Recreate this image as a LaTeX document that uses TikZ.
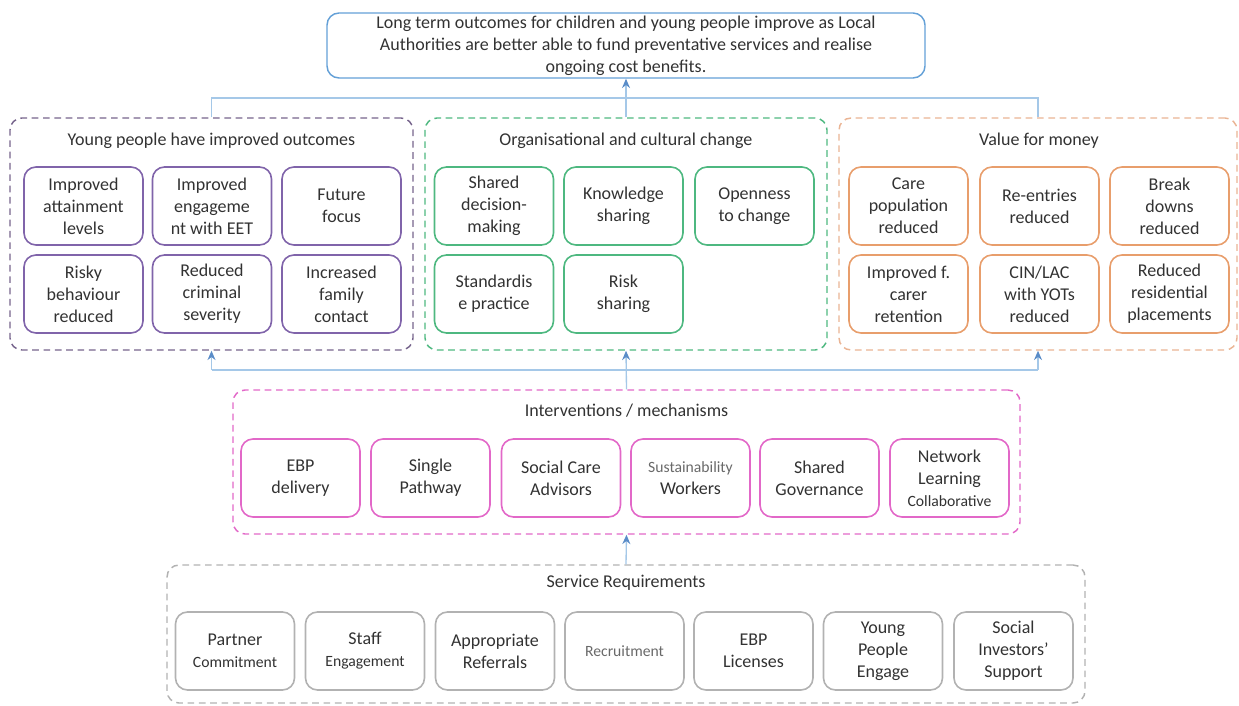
\documentclass[tikz,border=0pt]{standalone}
\usepackage{fontspec}
\setmainfont{Carlito}
\usepackage{tikz}
\usetikzlibrary{arrows.meta}

\definecolor{txtgray}{RGB}{50,50,50}
\definecolor{lightgray}{RGB}{105,105,105}
\definecolor{goalblue}{RGB}{100,160,215}
\definecolor{busblue}{RGB}{165,200,232}
\definecolor{tipblue}{RGB}{90,140,200}
\definecolor{ypurple}{RGB}{128,100,170}
\definecolor{ypurpledash}{RGB}{118,100,140}
\definecolor{ocgreen}{RGB}{78,184,128}
\definecolor{vmorange}{RGB}{232,158,108}
\definecolor{vmorangedash}{RGB}{234,180,148}
\definecolor{impink}{RGB}{226,104,200}
\definecolor{srgray}{RGB}{178,178,178}

\begin{document}
\begin{tikzpicture}[x=0.75pt,y=0.75pt,yscale=-1,xscale=1,
  every node/.style={font=\fontsize{13.5}{16.5}\selectfont,text=txtgray},
  itembox/.style={draw,line width=1.2pt,rounded corners=9pt,align=center,
    inner sep=0pt,minimum width=89.25pt,minimum height=58.5pt},
  groupbox/.style={draw,line width=1.1pt,rounded corners=9pt,inner sep=0pt,
    dash pattern={on 5pt off 3.5pt}},
  bus/.style={draw=busblue,line width=1pt},
  uparrow/.style={bus,-{Stealth[length=7pt,width=6pt,color=tipblue]}},
  small/.style={font=\fontsize{11.75}{14}\selectfont}]
  \useasboundingbox (0,0) rectangle (1239,706);

  %Shape: Goal box
  \node [draw=goalblue,line width=1.1pt,rounded corners=9pt,align=center,
    minimum width=448.5pt,minimum height=48.75pt,inner sep=0pt] (goal) at (626,45.5)
    {Long term outcomes for children and young people improve as Local\\
     Authorities are better able to fund preventative services and realise\\
     ongoing cost benefits.};

  %Shape: Group boxes
  \node [groupbox,draw=ypurpledash,minimum width=302.25pt,minimum height=174pt] (young) at (211.5,234) {};
  \node [groupbox,draw=ocgreen,minimum width=301.5pt,minimum height=174pt] (org) at (626,234) {};
  \node [groupbox,draw=vmorangedash,minimum width=298.5pt,minimum height=174pt] (value) at (1038,234) {};
  \node [groupbox,draw=impink,minimum width=590.25pt,minimum height=108pt] (interv) at (626.5,462) {};
  \node [groupbox,draw=srgray,minimum width=688.5pt,minimum height=103.5pt] (servreq) at (626,634) {};

  % Text Node
  \node (youngtitle) at (211.5,141) {Young people have improved outcomes};
  % Text Node
  \node (orgtitle) at (626,141) {Organisational and cultural change};
  % Text Node
  \node (valuetitle) at (1039,141) {Value for money};
  % Text Node
  \node (intervtitle) at (626.5,411) {Interventions / mechanisms};
  % Text Node
  \node (servreqtitle) at (626,583) {Service Requirements};

  %Shape: Young people boxes
  \node [itembox,draw=ypurple] (yp1) at (83.5,206) {Improved\\attainment\\levels};
  \node [itembox,draw=ypurple] (yp2) at (212,206) {Improved\\engageme\\nt with EET};
  \node [itembox,draw=ypurple] (yp3) at (341.5,206) {Future\\focus};
  \node [itembox,draw=ypurple] (yp4) at (83.5,294) {Risky\\behaviour\\reduced};
  \node [itembox,draw=ypurple] (yp5) at (212,294) {Reduced\\criminal\\severity};
  \node [itembox,draw=ypurple] (yp6) at (341.5,294) {Increased\\family\\contact};

  %Shape: Organisational boxes
  \node [itembox,draw=ocgreen] (oc1) at (494,206) {Shared\\decision-\\making};
  \node [itembox,draw=ocgreen] (oc2) at (623.5,206) {Knowledge\\sharing};
  \node [itembox,draw=ocgreen] (oc3) at (754.5,206) {Openness\\to change};
  \node [itembox,draw=ocgreen] (oc4) at (494,294) {Standardis\\e practice};
  \node [itembox,draw=ocgreen] (oc5) at (623.5,294) {Risk\\sharing};

  %Shape: Value for money boxes
  \node [itembox,draw=vmorange] (vm1) at (908.5,206) {Care\\population\\reduced};
  \node [itembox,draw=vmorange] (vm2) at (1039.5,206) {Re-entries\\reduced};
  \node [itembox,draw=vmorange] (vm3) at (1169.5,206) {Break\\downs\\reduced};
  \node [itembox,draw=vmorange] (vm4) at (908.5,294) {Improved f.\\carer\\retention};
  \node [itembox,draw=vmorange] (vm5) at (1039.5,294) {CIN/LAC\\with YOTs\\reduced};
  \node [itembox,draw=vmorange] (vm6) at (1169.5,294) {Reduced\\residential\\placements};

  %Shape: Intervention boxes
  \node [itembox,draw=impink] (im1) at (300.5,478) {EBP\\delivery};
  \node [itembox,draw=impink] (im2) at (430.5,478) {Single\\Pathway};
  \node [itembox,draw=impink] (im3) at (561,478) {Social Care\\Advisors};
  \node [itembox,draw=impink] (im4) at (690.5,478)
    {{\fontsize{11.75}{14}\selectfont\color{lightgray}Sustainability}\\Workers};
  \node [itembox,draw=impink] (im5) at (819.5,478) {Shared\\Governance};
  \node [itembox,draw=impink] (im6) at (949.5,478)
    {Network\\Learning\\{\fontsize{11.75}{14}\selectfont Collaborative}};

  %Shape: Service requirement boxes
  \node [itembox,draw=srgray] (sr1) at (235,651) {Partner\\{\fontsize{11.75}{14}\selectfont Commitment}};
  \node [itembox,draw=srgray] (sr2) at (365,651) {Staff\\{\fontsize{11.75}{14}\selectfont Engagement}};
  \node [itembox,draw=srgray] (sr3) at (495,651) {Appropriate\\Referrals};
  \node [itembox,draw=srgray,small,text=lightgray] (sr4) at (624.5,651) {Recruitment};
  \node [itembox,draw=srgray] (sr5) at (753.5,651) {EBP\\Licenses};
  \node [itembox,draw=srgray] (sr6) at (883,651) {Young\\People\\Engage};
  \node [itembox,draw=srgray] (sr7) at (1013.5,651) {Social\\Investors'\\Support};

  %Straight Lines: upper bus
  \coordinate (topbusL) at (211.5,98);
  \coordinate (topbusR) at (1038,98);
  \draw [bus] (young.north) -- (topbusL) -- (topbusR) -- (value.north);
  \draw [uparrow] (org.north) -- (goal.south);

  %Straight Lines: lower bus
  \coordinate (lowbusL) at (211.5,370);
  \coordinate (lowbusR) at (1038,370);
  \draw [bus] (lowbusL) -- (lowbusR);
  \draw [uparrow] (lowbusL) -- (young.south);
  \draw [uparrow] (lowbusR) -- (value.south);
  \draw [uparrow] (interv.north) -- (org.south);

  %Straight Lines: service requirements to interventions
  \draw [uparrow] (servreq.north) -- (interv.south);

\end{tikzpicture}
\end{document}
